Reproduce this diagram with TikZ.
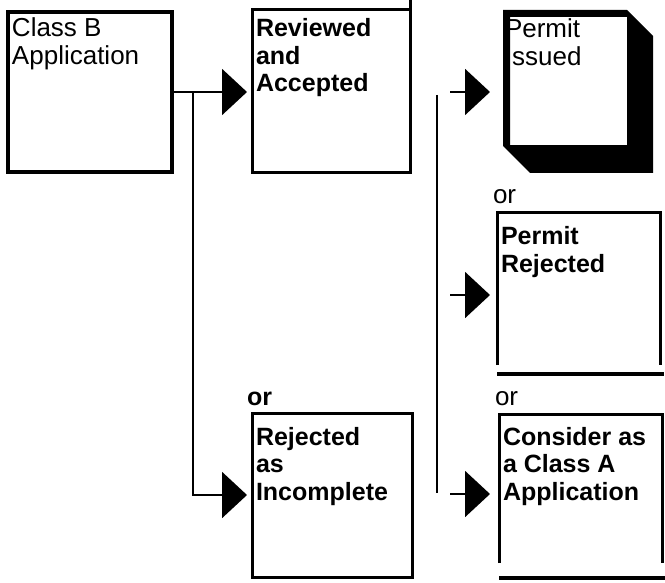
\documentclass[tikz,border=0pt]{standalone}
\usepackage{fontspec}
\setmainfont{Liberation Sans}
\usetikzlibrary{arrows.meta}
\begin{document}
\begin{tikzpicture}[x=1bp,y=-1bp,
  box/.style={draw, line width=3bp, inner sep=0pt, outer sep=0pt},
  openbox/.style={inner sep=0pt, outer sep=0pt},
  % multi-line texts are placed by the baseline of their last line
  txt/.style={anchor=base west, inner sep=0pt, outer sep=0pt, align=left,
    font=\fontsize{26bp}{28bp}\selectfont},
  btxt/.style={txt, font=\fontsize{25bp}{27.5bp}\selectfont\bfseries},
  link/.style={line width=2bp},
  flow/.style={line width=2bp, -{Triangle[length=25bp,width=46bp]}},
  rule/.style={line width=4bp},
]
\useasboundingbox (0,0) rectangle (665,583);

% --- boxes ---
\node[box, line width=3.5bp, minimum width=164bp, minimum height=160bp] (b1) at (90,92) {};
\node[txt] (t1) at ([xshift=4bp,yshift=-53bp]b1.north west) {Class B\\Application};

\node[box, minimum width=158bp, minimum height=162bp] (b2) at (331,91) {};
\draw[line width=3bp] (b2.north east) -- (b2.north east |- 0,0);
\node[btxt] (t2) at ([xshift=4bp,yshift=-82bp]b2.north west) {Reviewed\\and\\Accepted};

% permit issued: inner sheet with a heavy bevelled frame
\node[openbox, minimum width=117bp, minimum height=128bp] (b3) at (568.5,81) {};
\node[txt] (t3) at ([xshift=-5bp,yshift=-49bp]b3.north west) {Permit\\Issued};
\fill[even odd rule] (503,10) -- (627,10) -- (653,36) -- (653,173) -- (530,173) -- (503,146) -- cycle
  (b3.north west) rectangle (b3.south east);

\node[openbox, minimum width=163bp, minimum height=152bp] (b4) at (578.5,289) {};
\draw[line width=3bp] (b4.south west) -- (b4.north west) -- (b4.north east) -- (b4.south east);
\draw[rule] ([yshift=-9bp]b4.south west) -- ++(167,0);
\node[btxt] (t4) at ([xshift=4bp,yshift=-59bp]b4.north west) {Permit\\Rejected};

\node[box, minimum width=160bp, minimum height=164bp] (b5) at (332,495) {};
\node[btxt] (t5) at ([xshift=4bp,yshift=-87bp]b5.north west) {Rejected\\as\\Incomplete};

\node[openbox, minimum width=163bp, minimum height=149bp] (b6) at (580.5,488.5) {};
\draw[line width=3bp] (b6.south west) -- (b6.north west) -- (b6.north east) -- (b6.south east);
\draw[rule] ([yshift=-15bp]b6.south west) -- ++(166,0);
\node[btxt] (t6) at ([xshift=4bp,yshift=-86bp]b6.north west) {Consider as\\a Class A\\Application};

% --- labels ---
\node[txt] (or1) at (493,203) {or};
\node[txt] (or2) at (495,405) {or};
\node[btxt] (or3) at (247,405) {or};

% --- connectors ---
\draw[flow, shorten >=5bp] (b1.east) -- (b2.west |- b1.east);
\draw[flow, shorten >=5bp] ([xshift=21bp]b1.east) |- (b5.west);

\coordinate (v1) at (437,95);
\coordinate (v2) at (437,493);
\draw[link, line width=2.5bp] (v1) -- (v2);

\coordinate (s1) at (450,92);
\coordinate (s2) at (450,295);
\coordinate (s3) at (450,494);
\draw[flow, shorten >=20bp] (s1) -- (b3.west |- s1);
\draw[flow, shorten >=7bp] (s2) -- (b4.west |- s2);
\draw[flow, shorten >=9bp] (s3) -- (b6.west |- s3);
\end{tikzpicture}
\end{document}
